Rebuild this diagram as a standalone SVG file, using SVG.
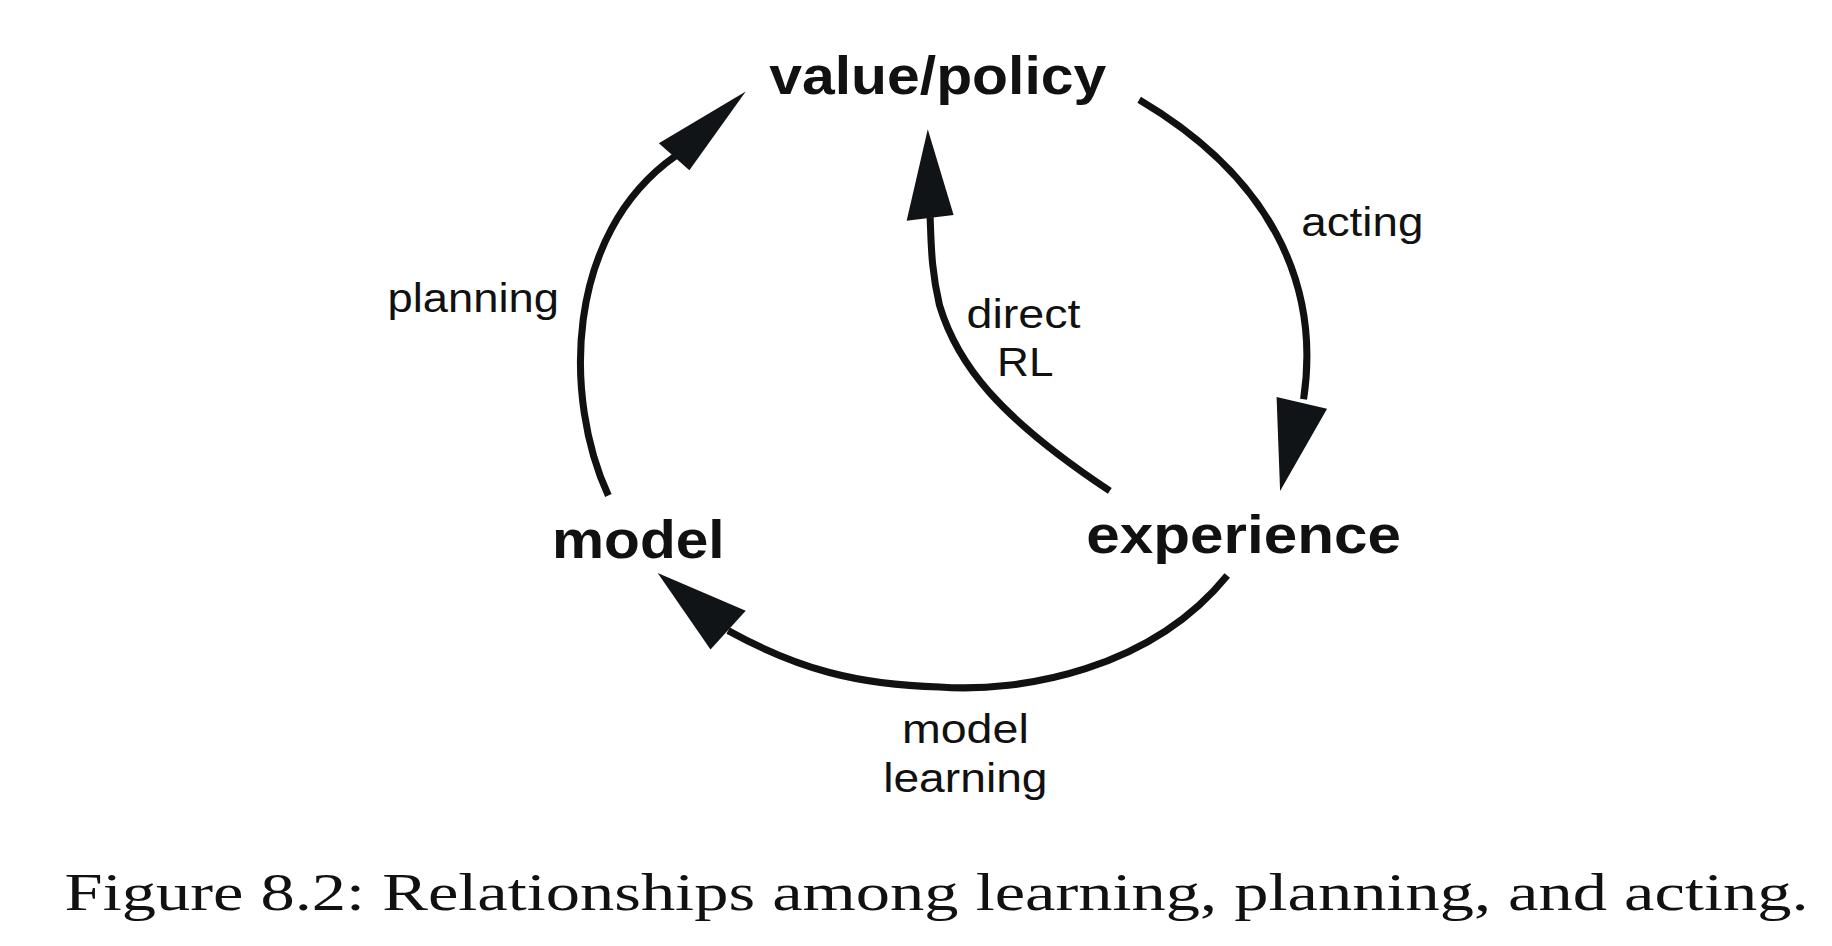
<svg xmlns="http://www.w3.org/2000/svg" width="1832" height="946" viewBox="0 0 1832 946">
<style>
.e{fill:none;stroke:#111;stroke-width:6}
.h{fill:#111417}
.n{font-family:"Liberation Sans",Arial,sans-serif;font-weight:bold;font-size:46px;fill:#111}
.l{font-family:"Liberation Sans",Arial,sans-serif;font-size:35px;fill:#111}
.c{font-family:"Liberation Serif","Times New Roman",serif;font-size:45px;fill:#111}
</style>
<rect width="1832" height="946" fill="#fff"/>
<g transform="scale(1.1744)">
<g id="connectors">
<path class="e" d="M518,422 C480,340 480,200 575,133"/>
<polygon class="h" points="635,78 561,122 587,145"/>
<path class="e" d="M970,85 C1080,150 1125,240 1110,340"/>
<polygon class="h" points="1090,418 1087,338 1130,348"/>
<path class="e" d="M945,418 C850,355 815,310 800,260 C793,230 793,210 792,185"/>
<polygon class="h" points="790,110 772,188 812,183"/>
<path class="e" d="M1045,490 C980,570 870,590 800,585 C730,583 680,570 620,537"/>
<polygon class="h" points="560,488 605,553 635,520"/>
<text class="l" x="330" y="266" textLength="146" lengthAdjust="spacingAndGlyphs">planning</text>
<text class="l" x="1108" y="201" textLength="104" lengthAdjust="spacingAndGlyphs">acting</text>
<text class="l" x="823" y="279" textLength="97" lengthAdjust="spacingAndGlyphs">direct</text>
<text class="l" x="849" y="320" textLength="48" lengthAdjust="spacingAndGlyphs">RL</text>
<text class="l" x="768" y="633" textLength="108" lengthAdjust="spacingAndGlyphs">model</text>
<text class="l" x="752" y="674" textLength="140" lengthAdjust="spacingAndGlyphs">learning</text>
</g>
<g id="value"><text class="n" x="655" y="80" textLength="287" lengthAdjust="spacingAndGlyphs">value/policy</text></g>
<g id="model"><text class="n" x="470" y="475" textLength="147" lengthAdjust="spacingAndGlyphs">model</text></g>
<g id="experience"><text class="n" x="925" y="471" textLength="268" lengthAdjust="spacingAndGlyphs">experience</text></g>
<text class="c" x="55" y="775" textLength="1485" lengthAdjust="spacingAndGlyphs">Figure 8.2: Relationships among learning, planning, and acting.</text>
</g>
</svg>
